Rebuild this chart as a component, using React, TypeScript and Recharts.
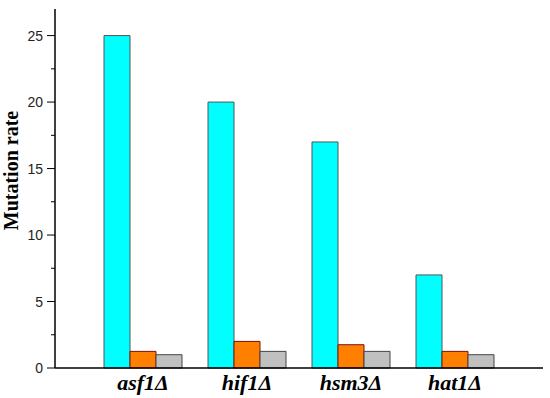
import { BarChart, Bar, XAxis, YAxis, Label } from 'recharts';

const strains = ['asf1Δ', 'hif1Δ', 'hsm3Δ', 'hat1Δ'];
const cyanValues = [25, 20, 17, 7];
const orangeValues = [1.25, 2, 1.75, 1.25];
const grayValues = [1, 1.25, 1.25, 1];
const yTicks = [0, 2.5, 5, 7.5, 10, 12.5, 15, 17.5, 20, 22.5, 25];

const data = strains.map((name, i) => ({
  name,
  a: cyanValues[i],
  b: orangeValues[i],
  c: grayValues[i],
}));

function YTick(props: any) {
  const { x, y, payload } = props;
  const major = payload.value % 5 === 0;
  return (
    <g>
      <line x1={x - (major ? 8 : 4)} x2={x} y1={y} y2={y} stroke="#000" strokeWidth={1} />
      {major && (
        <text x={x - 12} y={y} dy={5} textAnchor="end" fontFamily="Arial, 'Liberation Sans'" fontSize={14} fill="#222">
          {payload.value}
        </text>
      )}
    </g>
  );
}

function XTick(props: any) {
  const { x, y, payload } = props;
  return (
    <text x={x} y={y + 20} textAnchor="middle" fontFamily="'Times New Roman', 'Liberation Serif', serif" fontWeight="bold" fontStyle="italic" fontSize={22} fill="#000">
      {payload.value}
    </text>
  );
}

export default function App() {
  return (
    <div style={{ position: 'absolute', left: 0, top: 0, width: 550, height: 398, background: '#fff' }}>
      <BarChart
        width={550}
        height={398}
        data={data}
        margin={{ top: 9, right: 7, bottom: 0, left: 0 }}
        barGap={0}
        barCategoryGap="12%"
      >
        <XAxis
          dataKey="name"
          height={30}
          padding={{ left: 36, right: 36 }}
          tickLine={false}
          tickSize={0}
          tick={<XTick />}
          axisLine={{ stroke: '#000', strokeWidth: 1.5 }}
        />
        <YAxis
          width={55}
          domain={[0, 27]}
          ticks={yTicks}
          interval={0}
          tickLine={false}
          tickSize={0}
          tickMargin={0}
          tick={<YTick />}
          axisLine={{ stroke: '#000', strokeWidth: 1.5 }}
        >
          <Label
            value="Mutation rate"
            angle={-90}
            position="insideLeft"
            dx={6}
            dy={-18}
            style={{ fontFamily: "'Times New Roman', 'Liberation Serif', serif", fontWeight: 'bold', fontSize: 20, fill: '#000', textAnchor: 'middle' }}
          />
        </YAxis>
        <Bar dataKey="a" fill="#00FFFF" stroke="#555" strokeWidth={1} barSize={26} isAnimationActive={false} />
        <Bar dataKey="b" fill="#FF8000" stroke="#7a1010" strokeWidth={1} barSize={26} isAnimationActive={false} />
        <Bar dataKey="c" fill="#C0C0C0" stroke="#444" strokeWidth={1} barSize={26} isAnimationActive={false} />
      </BarChart>
    </div>
  );
}
